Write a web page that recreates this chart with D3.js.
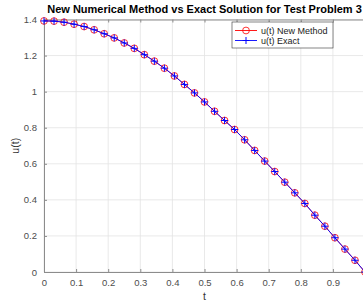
<!DOCTYPE html>
<html>
<head>
<meta charset="utf-8">
<script src="https://cdn.jsdelivr.net/npm/d3@7"></script>
<style>
  body { margin: 0; background: #fff; }
  svg { display: block; font-family: "Liberation Sans", Arial, sans-serif; }
</style>
</head>
<body>
<div id="chart"></div>
<script>
// t step is 1/32
const tValues = d3.range(33).map(i => i / 32);
const uNew = [1.392, 1.391, 1.385, 1.374, 1.361, 1.343, 1.321, 1.298, 1.270, 1.240,
              1.205, 1.169, 1.130, 1.087, 1.040, 0.993, 0.943, 0.891, 0.840, 0.790,
              0.733, 0.674, 0.615, 0.557, 0.498, 0.439, 0.380, 0.315, 0.254, 0.190,
              0.127, 0.065, 0.000];
const uExact = uNew.slice();
const xTicks = [0, 0.1, 0.2, 0.3, 0.4, 0.5, 0.6, 0.7, 0.8, 0.9, 1];
const yTicks = [0, 0.2, 0.4, 0.6, 0.8, 1, 1.2, 1.4];
const seriesNames = ['u(t) New Method', 'u(t) Exact'];

const width = 363, height = 307;
const plotLeft = 44, plotRight = 365, plotTop = 19.5, plotBottom = 272;

const svg = d3.select('#chart').append('svg')
  .attr('width', width)
  .attr('height', height);

const x = d3.scaleLinear().domain([0, 1]).range([plotLeft, plotRight]);
const y = d3.scaleLinear().domain([0, 1.4]).range([plotBottom, plotTop]);

// grid
svg.append('g').selectAll('line')
  .data(xTicks).enter().append('line')
  .attr('x1', d => x(d)).attr('x2', d => x(d))
  .attr('y1', plotTop).attr('y2', plotBottom)
  .attr('stroke', '#e3e3e3').attr('stroke-width', 0.8);
svg.append('g').selectAll('line')
  .data(yTicks).enter().append('line')
  .attr('x1', plotLeft).attr('x2', plotRight)
  .attr('y1', d => y(d)).attr('y2', d => y(d))
  .attr('stroke', '#e3e3e3').attr('stroke-width', 0.8);

// axes (the label of the last x tick falls outside the window)
const axisColor = '#8c8c8c';
const xAxis = d3.axisBottom(x).tickValues(xTicks).tickSize(-3).tickPadding(7)
  .tickFormat(d => d < 1 ? d3.format('~g')(d) : '');
const gx = svg.append('g').attr('transform', `translate(0,${plotBottom})`).call(xAxis);
const yAxis = d3.axisLeft(y).tickValues(yTicks).tickSize(-3).tickPadding(7)
  .tickFormat(d3.format('~g'));
const gy = svg.append('g').attr('transform', `translate(${plotLeft},0)`).call(yAxis);
const xTop = d3.axisTop(x).tickValues(xTicks).tickSize(-3).tickFormat('');
const gt = svg.append('g').attr('transform', `translate(0,${plotTop})`).call(xTop);

[gx, gy, gt].forEach(g => {
  g.select('.domain').attr('stroke', axisColor).attr('stroke-width', 1);
  g.selectAll('.tick line').attr('stroke', axisColor);
  g.selectAll('.tick text').attr('fill', '#4d4d4d').style('font-size', '9.5px');
});

// series
const line = d3.line().x(d => x(d[0])).y(d => y(d[1]));
const newData = tValues.map((t, i) => [t, uNew[i]]);
const exactData = tValues.map((t, i) => [t, uExact[i]]);

svg.append('path').datum(newData).attr('d', line)
  .attr('fill', 'none').attr('stroke', '#ff0000').attr('stroke-width', 0.8);
svg.append('g').selectAll('circle')
  .data(newData).enter().append('circle')
  .attr('cx', d => x(d[0])).attr('cy', d => y(d[1])).attr('r', 3.4)
  .attr('fill', 'none').attr('stroke', '#ff0000').attr('stroke-width', 0.8);

svg.append('path').datum(exactData).attr('d', line)
  .attr('fill', 'none').attr('stroke', '#0000ff').attr('stroke-width', 0.9);
svg.append('g').selectAll('path')
  .data(exactData).enter().append('path')
  .attr('transform', d => `translate(${x(d[0])},${y(d[1])})`)
  .attr('d', 'M-3.5,0H3.5M0,-3.5V3.5')
  .attr('stroke', '#0000ff').attr('stroke-width', 1);

// title and labels
svg.append('text')
  .attr('x', (plotLeft + plotRight) / 2).attr('y', 13)
  .attr('text-anchor', 'middle')
  .style('font-size', '11px').style('font-weight', 'bold')
  .attr('fill', '#000')
  .text('New Numerical Method vs Exact Solution for Test Problem 3');

svg.append('text')
  .attr('x', (plotLeft + plotRight) / 2).attr('y', 300)
  .attr('text-anchor', 'middle')
  .style('font-size', '10.5px').attr('fill', '#333')
  .text('t');

svg.append('text')
  .attr('transform', `translate(19,${(plotTop + plotBottom) / 2}) rotate(-90)`)
  .attr('text-anchor', 'middle')
  .style('font-size', '10.5px').attr('fill', '#333')
  .text('u(t)');

// legend
const legend = svg.append('g');
legend.append('rect')
  .attr('x', 232).attr('y', 22).attr('width', 101).attr('height', 26)
  .attr('fill', '#fff').attr('stroke', '#333').attr('stroke-width', 0.6);
const legendColors = ['#ff0000', '#0000ff'];
seriesNames.forEach((name, i) => {
  const ly = 30.5 + i * 10;
  legend.append('line')
    .attr('x1', 235).attr('x2', 257).attr('y1', ly).attr('y2', ly)
    .attr('stroke', legendColors[i]).attr('stroke-width', 0.9);
  if (i === 0) {
    legend.append('circle').attr('cx', 246).attr('cy', ly).attr('r', 3.4)
      .attr('fill', 'none').attr('stroke', '#ff0000').attr('stroke-width', 0.8);
  } else {
    legend.append('path')
      .attr('transform', `translate(246,${ly})`)
      .attr('d', 'M-3.5,0H3.5M0,-3.5V3.5')
      .attr('stroke', '#0000ff').attr('stroke-width', 1);
  }
  legend.append('text')
    .attr('x', 261).attr('y', ly + 3)
    .style('font-size', '9px').attr('fill', '#222')
    .text(name);
});
</script>
</body>
</html>
